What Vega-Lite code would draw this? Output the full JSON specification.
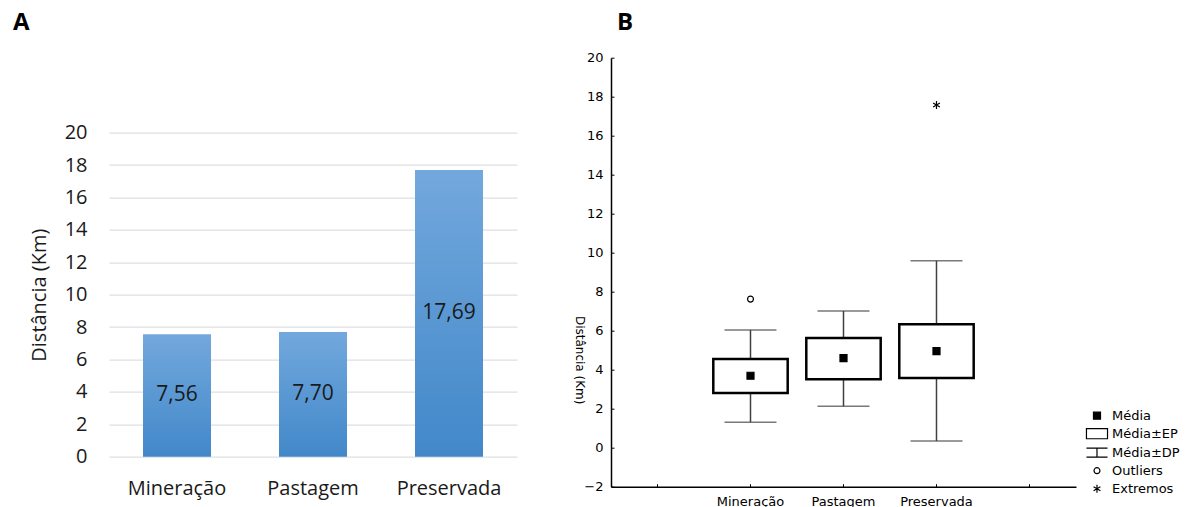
{
  "$schema": "https://vega.github.io/schema/vega-lite/v6.json",
  "padding": {"left": 13, "top": 10.7, "right": 4, "bottom": 0},
  "config": {
    "locale": {"number": {"decimal": ",", "thousands": ".", "grouping": [3], "currency": ["R$", ""]}},
    "view": {"stroke": null},
    "concat": {"spacing": 56}
  },
  "datasets": {
    "barras": [
      {"area": "Mineração", "valor": 7.56},
      {"area": "Pastagem", "valor": 7.70},
      {"area": "Preservada", "valor": 17.69}
    ],
    "caixas": [
      {"grupo": "Mineração", "ep_lo": 2.80, "ep_hi": 4.55, "dp_lo": 1.31, "dp_hi": 6.04},
      {"grupo": "Pastagem", "ep_lo": 3.51, "ep_hi": 5.63, "dp_lo": 2.12, "dp_hi": 7.01},
      {"grupo": "Preservada", "ep_lo": 3.57, "ep_hi": 6.33, "dp_lo": 0.34, "dp_hi": 9.59}
    ],
    "pontos": [
      {"grupo": "Mineração", "tipo": "Média", "valor": 3.69},
      {"grupo": "Pastagem", "tipo": "Média", "valor": 4.59},
      {"grupo": "Preservada", "tipo": "Média", "valor": 4.95},
      {"grupo": "Mineração", "tipo": "Outliers", "valor": 7.62},
      {"grupo": "Preservada", "tipo": "Extremos", "valor": 17.57}
    ]
  },
  "hconcat": [
    {
      "width": 408,
      "height": 399,
      "title": {"text": "A", "anchor": "start", "frame": "group", "dx": -96, "offset": 22.5, "font": "Open Sans", "fontSize": 24, "fontWeight": "bold", "color": "black"},
      "data": {"name": "barras"},
      "encoding": {
        "x": {
          "field": "area", "type": "nominal", "sort": null,
          "scale": {"paddingInner": 0.5, "paddingOuter": 0.25},
          "axis": {"title": null, "labelAngle": 0, "domain": false, "ticks": false, "labelPadding": 22, "labelFont": "Open Sans", "labelFontSize": 20, "labelColor": "#1a1a1a"}
        }
      },
      "layer": [
        {
          "mark": {"type": "bar", "color": {"x1": 0, "y1": 0, "x2": 0, "y2": 1, "gradient": "linear", "stops": [{"offset": 0, "color": "#72a8dd"}, {"offset": 1, "color": "#4288c9"}]}},
          "encoding": {
            "y": {
              "field": "valor", "type": "quantitative",
              "scale": {"domain": [0, 24.63], "nice": false},
              "axis": {"values": [0, 2, 4, 6, 8, 10, 12, 14, 16, 18, 20], "tickCount": 40, "format": "d", "labelOverlap": false, "grid": true, "gridColor": "#dcdfe4", "gridWidth": 1.3, "domain": false, "ticks": false, "labelPadding": 22, "labelFont": "Open Sans", "labelFontSize": 20, "labelColor": "#1a1a1a", "title": "Distância (Km)", "titleFont": "Open Sans", "titleFontSize": 20, "titleFontWeight": "normal", "titleColor": "#1a1a1a", "titleX": -70, "titleY": 237, "titleBaseline": "middle"}
            }
          }
        },
        {
          "transform": [{"calculate": "datum.valor / 2", "as": "meio"}],
          "mark": {"type": "text", "font": "Open Sans", "fontSize": 21, "color": "#1a1a1a", "baseline": "middle"},
          "encoding": {
            "y": {"field": "meio", "type": "quantitative"},
            "text": {"field": "valor", "type": "quantitative", "format": ".2f"}
          }
        }
      ]
    },
    {
      "width": 465,
      "height": 429,
      "title": {"text": "B", "anchor": "start", "frame": "group", "dx": 6, "offset": 16.5, "font": "Open Sans", "fontSize": 24, "fontWeight": "bold", "color": "black"},
      "encoding": {
        "x": {
          "field": "grupo", "type": "nominal",
          "scale": {"domain": ["_a", "Mineração", "Pastagem", "Preservada", "_b"], "paddingInner": 0, "paddingOuter": 0},
          "axis": {"title": null, "labelAngle": 0, "bandPosition": 0.5, "labelExpr": "datum.value === '_a' || datum.value === '_b' ? '' : datum.value", "domainColor": "black", "domainWidth": 1.5, "tickColor": "black", "tickSize": -3, "labelPadding": 12, "labelFont": "DejaVu Sans", "labelFontSize": 13, "labelColor": "black"}
        }
      },
      "layer": [
        {
          "data": {"name": "caixas"},
          "mark": {"type": "rule", "color": "#404040", "strokeWidth": 1.5},
          "encoding": {
            "y": {
              "field": "dp_lo", "type": "quantitative", "title": "Distância (Km)",
              "scale": {"domain": [-2, 20], "nice": false, "zero": false},
              "axis": {"values": [-2, 0, 2, 4, 6, 8, 10, 12, 14, 16, 18, 20], "tickCount": 40, "format": "d", "labelOverlap": false, "grid": false, "domainColor": "black", "domainWidth": 1.5, "tickColor": "black", "tickSize": -3, "labelPadding": 11, "labelFont": "DejaVu Sans", "labelFontSize": 13, "labelColor": "black", "title": "Distância (Km)", "titleFont": "DejaVu Sans", "titleFontSize": 12, "titleFontWeight": "normal", "titleColor": "black", "titleAngle": 90, "titleX": -32, "titleY": 302, "titleBaseline": "middle"}
            },
            "y2": {"field": "dp_hi"}
          }
        },
        {
          "data": {"name": "caixas"},
          "mark": {"type": "tick", "color": "#404040", "size": 52, "thickness": 1.5, "orient": "horizontal"},
          "encoding": {"y": {"field": "dp_lo", "type": "quantitative", "title": "Distância (Km)"}}
        },
        {
          "data": {"name": "caixas"},
          "mark": {"type": "tick", "color": "#404040", "size": 52, "thickness": 1.5, "orient": "horizontal"},
          "encoding": {"y": {"field": "dp_hi", "type": "quantitative", "title": "Distância (Km)"}}
        },
        {
          "data": {"name": "caixas"},
          "mark": {"type": "bar", "fill": "white", "stroke": "black", "strokeWidth": 2.5, "width": {"band": 0.8}},
          "encoding": {
            "y": {"field": "ep_lo", "type": "quantitative", "title": "Distância (Km)"},
            "y2": {"field": "ep_hi"}
          }
        },
        {
          "data": {"name": "pontos"},
          "mark": {"type": "point", "size": 324, "opacity": 1, "strokeWidth": 1.2},
          "encoding": {
            "y": {"field": "valor", "type": "quantitative", "title": "Distância (Km)"},
            "fill": {
              "field": "tipo", "type": "nominal",
              "scale": {"domain": ["Média", "Média±EP", "Média±DP", "Outliers", "Extremos"], "range": ["black", "transparent", "transparent", "transparent", "transparent"]}
            },
            "stroke": {
              "field": "tipo", "type": "nominal",
              "scale": {"domain": ["Média", "Média±EP", "Média±DP", "Outliers", "Extremos"], "range": ["black", "black", "black", "black", "black"]}
            },
            "shape": {
              "field": "tipo", "type": "nominal",
              "scale": {
                "domain": ["Média", "Média±EP", "Média±DP", "Outliers", "Extremos"],
                "range": [
                  "M-0.39,-0.39H0.39V0.39H-0.39Z",
                  "M-1.17,-0.56H1.17V0.56H-1.17Z",
                  "M-1.17,-0.5H1.17M0,-0.5V0.5M-1.17,0.5H1.17",
                  "M0.33,0A0.33,0.33,0,1,1,-0.33,0A0.33,0.33,0,1,1,0.33,0Z",
                  "M0,-0.44V0.44M-0.38,-0.22L0.38,0.22M-0.38,0.22L0.38,-0.22"
                ]
              },
              "legend": {
                "title": null, "orient": "none", "legendX": 978, "legendY": 348,
                "labelFont": "DejaVu Sans", "labelFontSize": 13, "labelColor": "black",
                "symbolSize": 324, "rowPadding": 1, "labelOffset": 5, "padding": 0,
                "symbolStrokeColor": "black", "symbolStrokeWidth": 1.2,
                "encode": {"symbols": {
                  "strokeWidth": {"condition": {"test": "datum.value === 'Média±EP'", "value": 2.5}, "value": 1.2}
                }}
              }
            }
          }
        }
      ]
    }
  ]
}
